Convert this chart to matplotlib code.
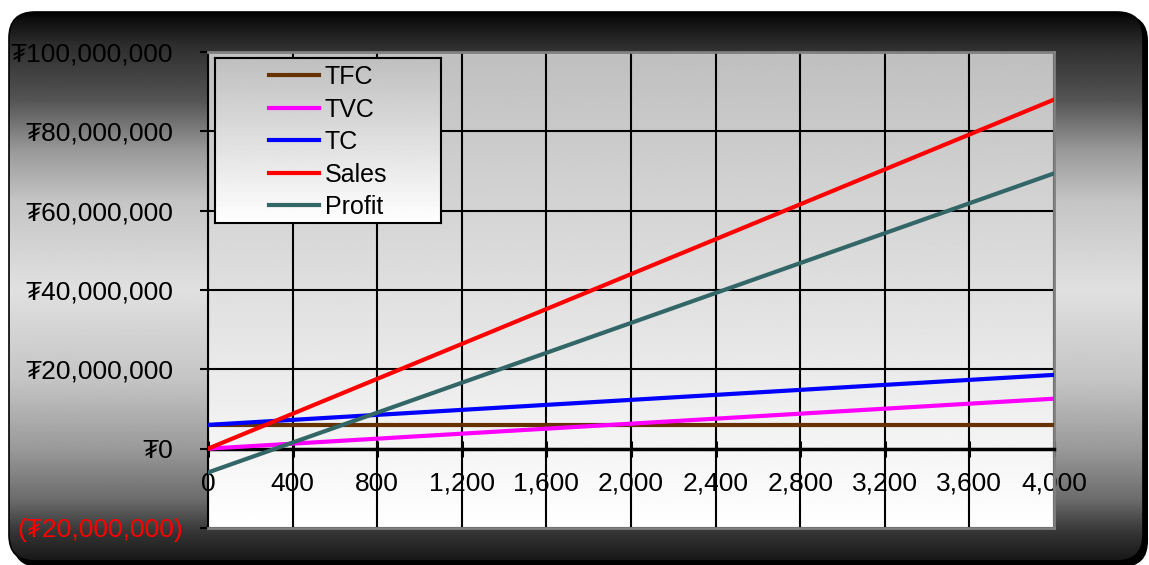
import numpy as np
import matplotlib
matplotlib.use('Agg')
import matplotlib.pyplot as plt
import matplotlib.transforms as mtransforms
from matplotlib.patches import FancyBboxPatch
from matplotlib.lines import Line2D

# break-even table: units sold vs. cost / revenue (tugrik)
units = [0, 400, 800, 1200, 1600, 2000, 2400, 2800, 3200, 3600, 4000]
tfc = [6000000, 6000000, 6000000, 6000000, 6000000, 6000000,
       6000000, 6000000, 6000000, 6000000, 6000000]
tvc = [0, 1260000, 2520000, 3780000, 5040000, 6300000,
       7560000, 8820000, 10080000, 11340000, 12600000]
tc = [6000000, 7260000, 8520000, 9780000, 11040000, 12300000,
      13560000, 14820000, 16080000, 17340000, 18600000]
sales = [0, 8800000, 17600000, 26400000, 35200000, 44000000,
         52800000, 61600000, 70400000, 79200000, 88000000]
profit = [-6000000, 1540000, 9080000, 16620000, 24160000, 31700000,
          39240000, 46780000, 54320000, 61860000, 69400000]

series_names = ['TFC', 'TVC', 'TC', 'Sales', 'Profit']
series_colors = ['#663300', '#ff00ff', '#0000ff', '#ff0000', '#336666']
y_ticks = [-20000000, 0, 20000000, 40000000, 60000000, 80000000, 100000000]

W, H = 1149, 565
plt.rcParams['font.family'] = ['Liberation Sans', 'DejaVu Sans']


def money(v):
    if v < 0:
        return '(\u20ae{:,})'.format(-v)
    return '\u20ae{:,}'.format(v)


fig = plt.figure(figsize=(W / 100, H / 100), dpi=100)

# rounded dark frame with a vertical metallic gradient
bg = fig.add_axes([0, 0, 1, 1])
bg.set_xlim(0, W)
bg.set_ylim(H, 0)
bg.axis('off')
shadow = FancyBboxPatch((13, 15), 1135, 552, boxstyle='round,pad=0,rounding_size=26',
                        facecolor='black', edgecolor='none')
bg.add_patch(shadow)
frame = FancyBboxPatch((9, 12), 1134, 549, boxstyle='round,pad=0,rounding_size=26',
                       facecolor='none', edgecolor='black', linewidth=1.2, zorder=3)
bg.add_patch(frame)
ys = [12, 18, 45, 100, 150, 200, 290, 380, 450, 500, 530, 563]
gs = [0.0, 0.05, 0.18, 0.33, 0.6, 0.77, 0.88, 0.77, 0.6, 0.42, 0.22, 0.08]
shade = np.interp(np.arange(H), ys, gs)[:, None]
img = bg.imshow(np.repeat(shade, 4, axis=1), cmap='gray', vmin=0, vmax=1,
                extent=(0, W, H, 0), aspect='auto', interpolation='bilinear', zorder=2)
img.set_clip_path(frame)

# plot area
ax = fig.add_axes([208 / W, 37 / H, 846 / W, 476 / H])
ax.imshow(np.linspace(0.75, 1.0, 200)[:, None], cmap='gray', vmin=0, vmax=1,
          extent=(0, 4000, -20000000, 100000000), aspect='auto', zorder=0)
for vals, name, col in zip([tfc, tvc, tc, sales, profit], series_names, series_colors):
    ax.plot(units, vals, color=col, lw=3, label=name, zorder=3)

ax.set_xlim(0, 4000)
ax.set_ylim(-20000000, 100000000)
ax.set_xticks(units, labels=['{:,}'.format(u) for u in units])
ax.set_yticks(y_ticks, labels=[money(v) for v in y_ticks])
ax.set_axisbelow(True)
ax.grid(True, color='black', lw=1.5)

for side in ['top', 'right']:
    ax.spines[side].set_color('#808080')
    ax.spines[side].set_linewidth(2)
ax.spines['left'].set_linewidth(1.5)
ax.spines['bottom'].set_position(('data', 0))
ax.spines['bottom'].set_linewidth(2.5)
ax.axhline(-20000000, color='#808080', lw=2, zorder=2.6, clip_on=False)

ax.tick_params(axis='y', direction='out', length=6, width=1.5, pad=12, labelsize=19)
ax.tick_params(axis='x', direction='inout', length=11, width=2.2, pad=11, labelsize=19)

# positive labels leave room for the closing bracket of negatives
shift = mtransforms.ScaledTranslation(-10 / 100, 0, fig.dpi_scale_trans)
for lbl, v in zip(ax.get_yticklabels(), y_ticks):
    if v < 0:
        lbl.set_color('red')
    else:
        lbl.set_transform(lbl.get_transform() + shift)

# legend box with its own gradient
lg = fig.add_axes([215 / W, (H - 223) / H, 226 / W, 165 / H])
lg.imshow(np.linspace(0.75, 1.0, 100)[:, None], cmap='gray', vmin=0, vmax=1,
          extent=(0, 1, 0, 1), aspect='auto')
lg.set_xticks([])
lg.set_yticks([])
for sp in lg.spines.values():
    sp.set_linewidth(1.5)
handles = [Line2D([], [], color=c, lw=3) for c in series_colors]
lg.legend(handles, series_names, loc='center', frameon=False, fontsize=18,
          handlelength=2.0, handletextpad=0.25, labelspacing=0.34,
          borderaxespad=0, bbox_to_anchor=(0.5, 0.49))

fig.savefig('out.png', dpi=100)
